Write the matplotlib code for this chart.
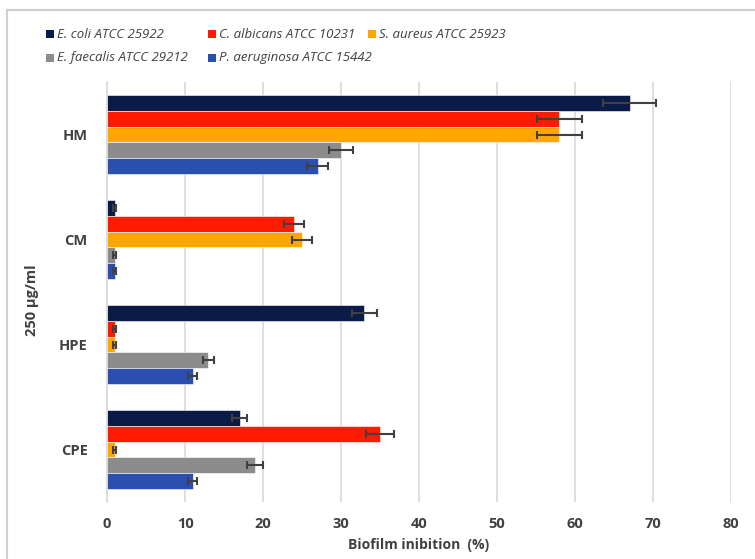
import matplotlib
matplotlib.use("Agg")
import matplotlib.pyplot as plt
import numpy as np
from matplotlib.patches import Rectangle
from matplotlib.lines import Line2D

plt.rcParams['font.family'] = ['Open Sans', 'DejaVu Sans']

categories = ["HM", "CM", "HPE", "CPE"]
series = ["E. coli ATCC 25922", "C. albicans ATCC 10231", "S. aureus ATCC 25923",
          "E. faecalis ATCC 29212", "P. aeruginosa ATCC 15442"]
colors = ["#0b1b47", "#ff1a00", "#ffa600", "#8c8c8c", "#2a4fb0"]

ecoli = [67, 1, 33, 17]
calbicans = [58, 24, 1, 35]
saureus = [58, 25, 1, 1]
efaecalis = [30, 1, 13, 19]
paeruginosa = [27, 1, 11, 11]

ecoli_err = [3.4, 0.2, 1.6, 1.0]
calbicans_err = [2.9, 1.3, 0.2, 1.8]
saureus_err = [2.9, 1.3, 0.2, 0.2]
efaecalis_err = [1.6, 0.2, 0.7, 1.0]
paeruginosa_err = [1.3, 0.2, 0.6, 0.6]

values = [ecoli, calbicans, saureus, efaecalis, paeruginosa]
errors = [ecoli_err, calbicans_err, saureus_err, efaecalis_err, paeruginosa_err]

fig = plt.figure(figsize=(7.55, 5.59), dpi=100)
ax = fig.add_axes([107/755, 1-502/559, (731-107)/755, (502-82)/559])

y = np.arange(len(categories))
h = 0.15
for i, (vals, errs, c) in enumerate(zip(values, errors, colors)):
    ax.barh(y + (i - 2) * h, vals, height=h, color=c, edgecolor='white', linewidth=0.4,
            xerr=errs, error_kw=dict(ecolor='#404040', elinewidth=1.5, capsize=3, capthick=1.5),
            zorder=3)

ax.set_xlim(0, 80)
ax.set_ylim(3.5, -0.5)
ax.set_xticks(np.arange(0, 81, 10))
ax.set_yticks(y)
ax.set_yticklabels(categories, fontsize=10.5, fontweight='bold', color='#404040')
ax.tick_params(axis='x', length=0, pad=11, labelsize=10.5, labelcolor='#404040')
ax.tick_params(axis='y', length=0, pad=14)
for lbl in ax.get_xticklabels():
    lbl.set_fontweight('bold')
ax.grid(axis='x', color='#d9d9d9', linewidth=1.2, zorder=0)
for s in ['top', 'right', 'bottom']:
    ax.spines[s].set_visible(False)
ax.spines['left'].set_color('#d9d9d9')
ax.spines['left'].set_linewidth(1.2)
ax.spines['left'].set_zorder(4)

ax.set_xlabel("Biofilm inibition  (%)", fontsize=10, fontweight='bold', color='#404040', labelpad=5)
fig.text(32/755, 1-300/559, "250 µg/ml", rotation=90, ha='center', va='center',
         fontsize=10.5, fontweight='bold', color='#404040')

# legend
leg_pos = [(50, 34), (212, 34), (372, 34), (50, 58), (212, 58)]
for (lx, ly), name, c in zip(leg_pos, series, colors):
    fig.patches.append(Rectangle(((lx - 4) / 755, 1 - (ly + 4) / 559), 8 / 755, 8 / 559,
                                 transform=fig.transFigure, facecolor=c, edgecolor='none'))
    fig.text((lx + 7) / 755, 1 - ly / 559, name, ha='left', va='center', fontsize=9.5,
             style='italic', color='#404040')

# frame lines
fig.add_artist(Line2D([7/755, 7/755], [0, 1 - 10/559], transform=fig.transFigure,
                      color='#d0d0d0', linewidth=1.5))
fig.add_artist(Line2D([7/755, 1], [1 - 10/559, 1 - 10/559], transform=fig.transFigure,
                      color='#d0d0d0', linewidth=1.5))

fig.savefig("out.png", dpi=100)
